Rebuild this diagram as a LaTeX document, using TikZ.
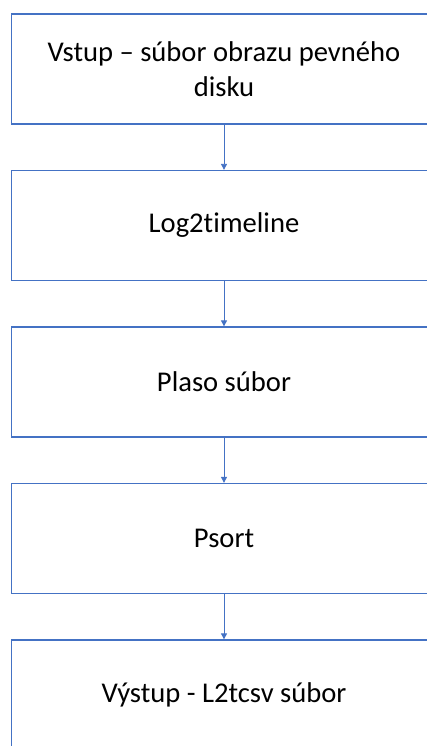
\documentclass[tikz,border=0pt]{standalone}
\usepackage{fontspec}
\setmainfont{Carlito}[Ligatures={NoCommon,NoRequired}]
\usetikzlibrary{arrows.meta}
\definecolor{officeblue}{HTML}{4472C4}
\begin{document}
\begin{tikzpicture}[x=1pt,y=-1pt,
  stepbox/.style={draw=officeblue,line width=1.3pt,minimum width=425pt,minimum height=110pt,inner sep=0pt,align=center,font=\fontsize{28.6}{35}\selectfont,text=black},
  conn/.style={draw=officeblue,line width=0.9pt,-{Triangle[length=6pt,width=6pt]}}]
\useasboundingbox (0,0) rectangle (427,746);
\clip (0,0) rectangle (427,746);
\node[stepbox] (b1) at (224,69) {Vstup – súbor obrazu pevného\\disku};
\node[stepbox] (b2) at (224,225.5) {Log2timeline};
\node[stepbox] (b3) at (224,382) {Plaso súbor};
\node[stepbox] (b4) at (224,538.5) {Psort};
\node[stepbox] (b5) at (224,695) {Výstup - L2tcsv súbor};
\draw[conn] (b1) -- (b2);
\draw[conn] (b2) -- (b3);
\draw[conn] (b3) -- (b4);
\draw[conn] (b4) -- (b5);
\end{tikzpicture}
\end{document}
